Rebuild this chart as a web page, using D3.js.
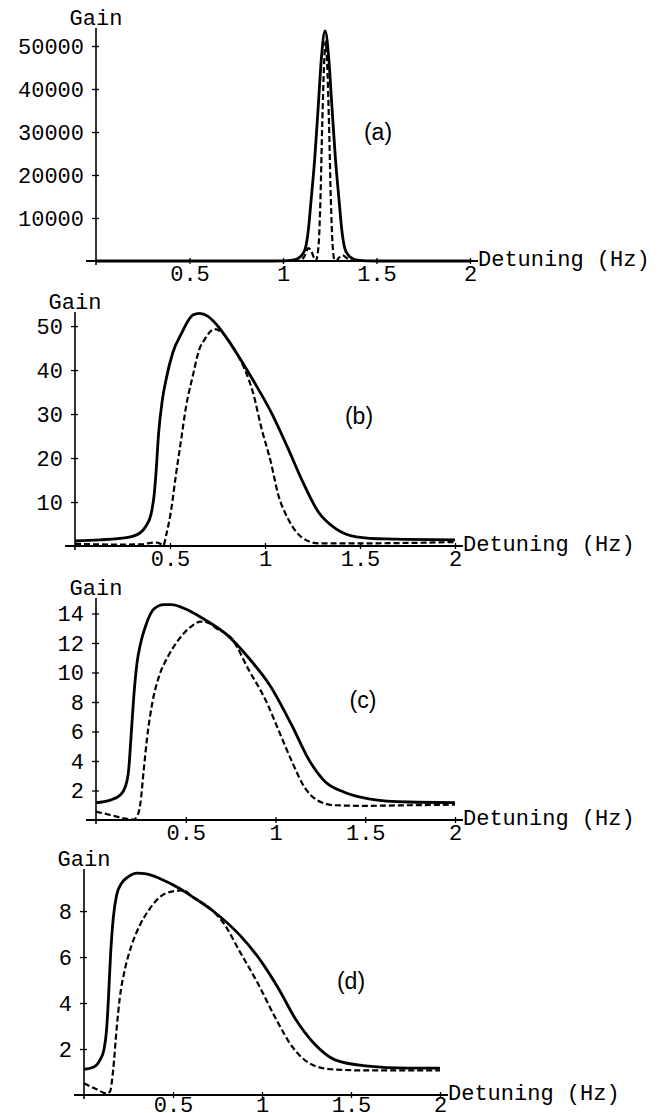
<!DOCTYPE html>
<html>
<head>
<meta charset="utf-8">
<script src="https://cdn.jsdelivr.net/npm/d3@7/dist/d3.min.js"></script>
<style>
  body { margin: 0; background: #fff; }
  svg { display: block; }
  .tick text, .lab { font-family: "Liberation Mono", "Courier New", monospace; font-size: 22px; fill: #000; }
  .panel { font-family: "Liberation Sans", Arial, sans-serif; font-size: 23px; fill: #000; }
</style>
</head>
<body>
<svg id="chart" width="669" height="1113"></svg>
<script>
// detuning (Hz), gain
var detTicks = [0.5, 1, 1.5, 2];

var ticksA = [10000, 20000, 30000, 40000, 50000];
var solidA = [[0,0],[0.9,0],[1.0,50],[1.05,200],[1.08,600],[1.10,1300],[1.12,3000],[1.135,7000],[1.15,14000],
  [1.17,24000],[1.19,37000],[1.205,47000],[1.225,53500],[1.245,47000],[1.26,37000],[1.28,24000],[1.30,14000],
  [1.315,7000],[1.33,3000],[1.35,1300],[1.37,600],[1.40,200],[1.45,50],[1.55,0],[2.0,0]];
var dashedA = [[0,0],[1.08,0],[1.10,300],[1.12,1500],[1.135,3000],[1.15,2400],[1.165,800],[1.175,0],[1.19,3500],
  [1.20,14000],[1.21,32000],[1.22,46000],[1.228,51000],[1.236,46000],[1.246,32000],[1.256,14000],[1.265,4000],
  [1.275,300],[1.285,0],[1.30,800],[1.32,1300],[1.34,700],[1.37,150],[1.40,0],[2.0,0]];

var ticksB = [10, 20, 30, 40, 50];
var solidB = [[0,1.15],[0.13,1.4],[0.27,1.9],[0.34,2.9],[0.373,4.5],[0.40,7.2],[0.417,11.8],[0.426,16.4],
  [0.44,25.6],[0.46,33.3],[0.48,38],[0.515,44],[0.56,48.3],[0.62,52.5],[0.655,52.9],[0.70,52.2],[0.735,50.8],
  [0.85,43.9],[0.94,37.5],[1.03,30.6],[1.12,22.3],[1.19,15.4],[1.28,7.8],[1.37,4],[1.48,2.1],[1.64,1.6],[2.0,1.4]];
var dashedB = [[0,0.5],[0.1,0.4],[0.2,0.3],[0.35,0.4],[0.42,0.8],[0.445,0.6],[0.465,0.1],[0.48,2.5],[0.505,7.9],
  [0.532,16.4],[0.558,24],[0.585,31.8],[0.62,38.7],[0.655,44.8],[0.68,46.8],[0.735,49.3],[0.78,48.3],[0.84,44.6],
  [0.89,40.5],[0.94,34.4],[0.98,27],[1.03,19.2],[1.07,11.6],[1.12,6.3],[1.19,2.1],[1.28,0.6],[1.5,0.6],[2.0,0.9]];

var ticksC = [2, 4, 6, 8, 10, 12, 14];
var solidC = [[0,1.17],[0.08,1.35],[0.135,1.7],[0.163,2.25],[0.182,3.4],[0.195,5.6],[0.21,8.3],[0.228,10.6],
  [0.247,11.9],[0.275,13.1],[0.322,14.3],[0.378,14.6],[0.42,14.6],[0.50,14.3],[0.59,13.7],[0.73,12.55],[0.85,11],
  [0.97,9.1],[1.09,6.44],[1.19,4],[1.28,2.56],[1.38,1.9],[1.52,1.44],[1.74,1.22],[2.0,1.18]];
var dashedC = [[0,0.56],[0.08,0.34],[0.155,0.11],[0.21,0.03],[0.228,0.22],[0.247,1.1],[0.266,3.4],[0.285,5.6],
  [0.313,7.9],[0.35,9.7],[0.397,11],[0.453,12.1],[0.528,13.1],[0.585,13.45],[0.62,13.4],[0.67,13.0],[0.756,12.3],
  [0.85,10.2],[0.95,8],[1.02,6],[1.09,4],[1.163,2.2],[1.234,1.33],[1.33,1.0],[1.5,0.96],[1.74,1.0],[2.0,1.04]];

var ticksD = [2, 4, 6, 8];
var solidD = [[0,1.12],[0.052,1.21],[0.09,1.53],[0.112,1.97],[0.127,2.85],[0.138,4.3],[0.149,6.06],[0.164,7.66],
  [0.183,8.69],[0.21,9.2],[0.248,9.49],[0.30,9.65],[0.35,9.62],[0.425,9.42],[0.54,8.97],[0.61,8.62],[0.734,7.95],
  [0.878,6.93],[1.0,5.76],[1.095,4.6],[1.19,3.28],[1.29,2.26],[1.41,1.53],[1.58,1.27],[1.82,1.17],[2.0,1.17]];
var dashedD = [[0,0.51],[0.071,0.25],[0.127,0.07],[0.146,0.15],[0.164,1.1],[0.183,2.85],[0.20,4.16],[0.23,5.47],
  [0.267,6.5],[0.313,7.37],[0.369,8.1],[0.425,8.6],[0.50,8.86],[0.556,8.9],[0.613,8.6],[0.71,8.1],[0.782,7.5],
  [0.878,6.2],[0.975,4.88],[1.071,3.42],[1.168,2.12],[1.264,1.39],[1.385,1.12],[1.58,1.07],[2.0,1.07]];

// layout of the four stacked panels (pixels) and their plot ranges
var panels = [
  {name: "(a)", left: 96, right: 470, base: 261, top: 28,  yTop: 54186, ticks: ticksA, solid: solidA, dashed: dashedA, lx: 378, ly: 132, tl: 20},
  {name: "(b)", left: 75, right: 455, base: 546, top: 312, yTop: 53.2,  ticks: ticksB, solid: solidB, dashed: dashedB, lx: 359, ly: 416, tl: 20},
  {name: "(c)", left: 96, right: 455, base: 820, top: 598, yTop: 15.05, ticks: ticksC, solid: solidC, dashed: dashedC, lx: 363, ly: 700, tl: 20},
  {name: "(d)", left: 84, right: 440, base: 1095, top: 869, yTop: 9.83, ticks: ticksD, solid: solidD, dashed: dashedD, lx: 351, ly: 981, tl: 17}
];

var svg = d3.select("#chart");
svg.append("rect").attr("width", 669).attr("height", 1113).attr("fill", "#fff");

panels.forEach(function(p) {
    var x = d3.scaleLinear().domain([0, 2]).range([p.left, p.right]);
    var y = d3.scaleLinear().domain([0, p.yTop]).range([p.base, p.top]);
    var g = svg.append("g");

    // axes lines, Mathematica style: crossing at the origin
    g.append("line").attr("x1", x(0) - 10).attr("x2", x(2) + 8)
        .attr("y1", y(0)).attr("y2", y(0)).attr("stroke", "#000").attr("stroke-width", 1.8);
    g.append("line").attr("x1", x(0)).attr("x2", x(0))
        .attr("y1", y(0) + 4).attr("y2", y(p.yTop)).attr("stroke", "#000").attr("stroke-width", 1.6);

    var xa = g.append("g").attr("transform", "translate(0," + y(0) + ")")
        .call(d3.axisBottom(x).tickValues(detTicks).tickFormat(d3.format("")).tickSize(0));
    xa.select(".domain").remove();
    xa.selectAll(".tick line").attr("y1", -3).attr("y2", 3).attr("stroke", "#000").attr("stroke-width", 1.3);
    xa.selectAll(".tick text").attr("y", p.tl).attr("dy", 0);

    var ya = g.append("g").attr("transform", "translate(" + x(0) + ",0)")
        .call(d3.axisLeft(y).tickValues(p.ticks).tickFormat(d3.format("d")).tickSize(0));
    ya.select(".domain").remove();
    ya.selectAll(".tick line").attr("x1", -4).attr("x2", 3).attr("stroke", "#000").attr("stroke-width", 1.3);
    ya.selectAll(".tick text").attr("x", -12).attr("dy", "0.34em");

    g.append("text").attr("class", "lab").attr("x", x(0)).attr("y", y(p.yTop) - 3)
        .attr("text-anchor", "middle").text("Gain");
    g.append("text").attr("class", "lab").attr("x", x(2) + 8).attr("y", y(0) + 5).text("Detuning (Hz)");
    g.append("text").attr("class", "panel").attr("x", p.lx).attr("y", p.ly)
        .attr("text-anchor", "middle").attr("dy", "0.35em").text(p.name);

    var line = d3.line()
        .x(function(d) { return x(d[0]); })
        .y(function(d) { return y(d[1]); })
        .curve(d3.curveMonotoneX);

    g.append("path").datum(p.dashed).attr("d", line).attr("fill", "none")
        .attr("stroke", "#000").attr("stroke-width", 2.2).attr("stroke-dasharray", "6,3");
    g.append("path").datum(p.solid).attr("d", line).attr("fill", "none")
        .attr("stroke", "#000").attr("stroke-width", 2.8);
});
</script>
</body>
</html>
